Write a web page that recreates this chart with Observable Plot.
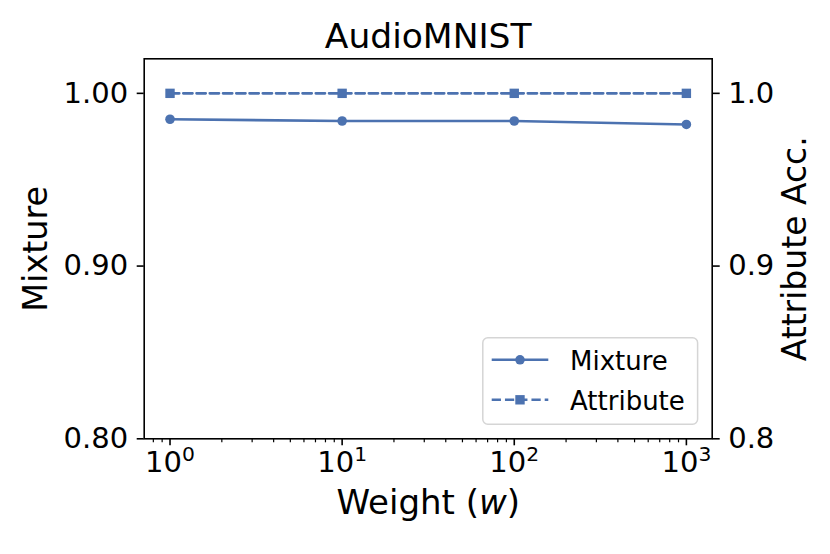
<!DOCTYPE html>
<html><head><meta charset="utf-8">
<script src="https://cdn.jsdelivr.net/npm/d3@7"></script>
<script src="https://cdn.jsdelivr.net/npm/@observablehq/plot@0.6"></script>
<style>
body{margin:0;background:#fff;}
#wrap{position:relative;width:830px;height:554px;font-family:"DejaVu Sans",sans-serif;}
</style></head><body><div id="wrap"></div>
<script>
const weights = [1, 10, 100, 1000];
const mixture = [0.985, 0.984, 0.984, 0.982];
const attribute = [1.000, 1.000, 1.000, 1.000];
const xTicks = [1, 10, 100, 1000];
const yTicksLeft = [0.80, 0.90, 1.00];
const yTicksRight = [0.8, 0.9, 1.0];
const seriesNames = ["Mixture", "Attribute"];
const title = "AudioMNIST";
const xLabel = "Weight (w)";
const yLabelLeft = "Mixture";
const yLabelRight = "Attribute Acc.";
const color = "#4C72B0";

const mixData = weights.map((w, i) => ({w, v: mixture[i]}));
const attData = weights.map((w, i) => ({w, v: attribute[i]}));
const xDomain = [10 ** -0.15, 10 ** 3.15];
const minorTicks = [];
for (let k = -1; k <= 3; k++) for (let m = 2; m <= 9; m++) {
  const v = m * 10 ** k;
  if (v >= xDomain[0] && v <= xDomain[1]) minorTicks.push(v);
}

const chart = Plot.plot({
  width: 830, height: 554,
  marginLeft: 143.7, marginRight: 118.3, marginTop: 58.3, marginBottom: 115.7,
  style: {fontFamily: "DejaVu Sans", background: "white", color: "black", overflow: "visible"},
  x: {type: "log", domain: xDomain},
  y: {domain: [0.8, 1.02]},
  marks: [
    Plot.axisX({ticks: minorTicks, tickSize: 4, strokeWidth: 1.2, tickFormat: () => "", label: null}),
    Plot.axisX({ticks: xTicks, tickSize: 7, tickPadding: 6, strokeWidth: 1.6, fontSize: 29,
      tickFormat: d => "10^" + Math.round(Math.log10(d)), label: null}),
    Plot.axisY({anchor: "left", ticks: yTicksLeft, tickFormat: d3.format(".2f"), tickSize: 7, tickPadding: 9,
      strokeWidth: 1.6, fontSize: 29, label: null}),
    Plot.axisY({anchor: "right", ticks: yTicksRight, tickFormat: d3.format(".1f"), tickSize: 7, tickPadding: 9,
      strokeWidth: 1.6, fontSize: 29, label: null}),
    Plot.frame({stroke: "black", strokeWidth: 1.6}),
    Plot.line(mixData, {x: "w", y: "v", stroke: color, strokeWidth: 2.6}),
    Plot.line(attData, {x: "w", y: "v", stroke: color, strokeWidth: 2.6, strokeDasharray: "9.25,4"}),
    Plot.dot(mixData, {x: "w", y: "v", r: 4.8, fill: color, symbol: "circle"}),
    Plot.dot(attData, {x: "w", y: "v", r: 5.3, fill: color, symbol: "square"}),
    Plot.text([title], {text: d => d, frameAnchor: "top", textAnchor: "middle", dy: -21.6, fontSize: 34.5, lineAnchor: "middle"}),
    Plot.text([xLabel], {text: d => d, frameAnchor: "bottom", textAnchor: "middle", dy: 64.8, fontSize: 34, lineAnchor: "middle"}),
    Plot.text([yLabelLeft], {text: d => d, frameAnchor: "left", textAnchor: "middle", rotate: -90, dx: -108, fontSize: 33.5, lineAnchor: "middle"}),
    Plot.text([yLabelRight], {text: d => d, frameAnchor: "right", textAnchor: "middle", rotate: -90, dx: 83.6, fontSize: 33, lineAnchor: "middle"})
  ]
});
document.getElementById("wrap").appendChild(chart);

// superscript exponents on x tick labels
const NS = "http://www.w3.org/2000/svg";
chart.querySelectorAll("text").forEach(t => {
  const s = t.textContent;
  const m = /^10\^(\d+)$/.exec(s);
  if (m) {
    while (t.firstChild) t.removeChild(t.firstChild);
    const a = document.createElementNS(NS, "tspan"); a.textContent = "10";
    const b = document.createElementNS(NS, "tspan"); b.textContent = m[1];
    b.setAttribute("font-size", "20.3"); b.setAttribute("dy", "-11.7");
    t.appendChild(a); t.appendChild(b);
  } else if (s === xLabel) {
    while (t.firstChild) t.removeChild(t.firstChild);
    const a = document.createElementNS(NS, "tspan"); a.textContent = "Weight (";
    const b = document.createElementNS(NS, "tspan"); b.textContent = "w"; b.setAttribute("font-style", "italic");
    const c = document.createElementNS(NS, "tspan"); c.textContent = ")";
    t.appendChild(a); t.appendChild(b); t.appendChild(c);
  }
});

// legend
const lg = d3.select("#wrap").append("svg")
  .attr("width", 217).attr("height", 89)
  .style("position", "absolute").style("left", "482px").style("top", "336.5px");
lg.append("rect").attr("x", 0.8).attr("y", 0.8).attr("width", 214.8).attr("height", 86.5).attr("rx", 5)
  .attr("fill", "white").attr("fill-opacity", 0.8).attr("stroke", "#d5d5d5").attr("stroke-width", 1.5);
const rows = [{y: 22.8, dash: null, sym: "circle"}, {y: 62.8, dash: "9.25,4", sym: "square"}];
rows.forEach((r, i) => {
  const l = lg.append("line").attr("x1", 9.7).attr("x2", 66.3).attr("y1", r.y).attr("y2", r.y)
    .attr("stroke", color).attr("stroke-width", 2.6);
  if (r.dash) l.attr("stroke-dasharray", r.dash);
  if (r.sym === "circle") lg.append("circle").attr("cx", 38).attr("cy", r.y).attr("r", 4.8).attr("fill", color);
  else lg.append("rect").attr("x", 38 - 4.7).attr("y", r.y - 4.7).attr("width", 9.4).attr("height", 9.4).attr("fill", color);
  lg.append("text").attr("x", 88).attr("y", r.y + 10).attr("font-size", 26)
    .attr("font-family", "DejaVu Sans").attr("fill", "black").text(seriesNames[i]);
});
</script></body></html>
